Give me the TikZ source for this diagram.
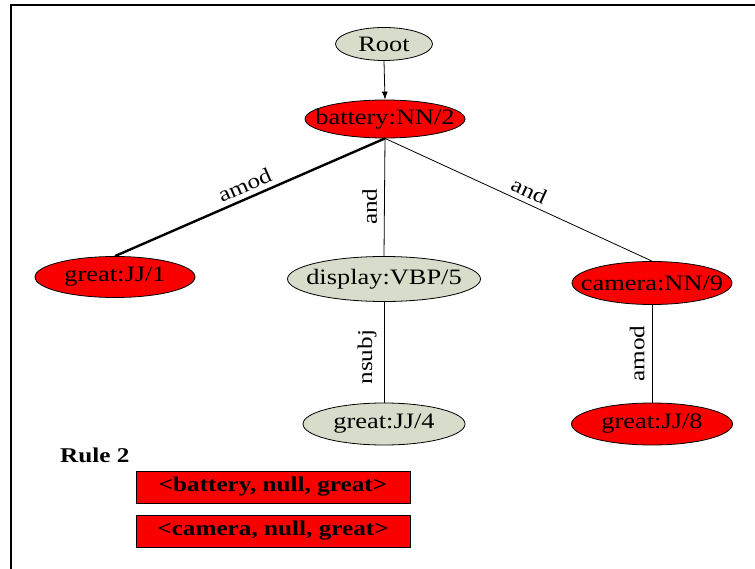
\documentclass[tikz,border=0pt]{standalone}
\usepackage{fontspec}
\setmainfont[FakeStretch=1.2]{Liberation Serif}
\usetikzlibrary{shapes.geometric,arrows.meta}
\definecolor{nodegray}{RGB}{216,220,202}
\definecolor{hotred}{RGB}{250,0,0}
% ellipse size is set explicitly; the label itself takes no width
\newcommand\tightlabel[1]{\makebox[0pt]{#1}}
\tikzset{
  word/.style={ellipse, draw=black, line width=0.8pt, inner sep=0pt,
    font=\fontsize{22}{25}\selectfont},
  plain/.style={word, fill=nodegray},
  hit/.style={word, fill=hotred},
  dep/.style={line width=0.8pt},
  strongdep/.style={line width=2.4pt},
  rel/.style={font=\fontsize{21}{24}\selectfont, inner sep=5pt},
  tuple/.style={draw=black, line width=0.8pt, fill=hotred, minimum width=274pt,
    minimum height=32pt, inner sep=0pt, font=\fontsize{21}{24}\selectfont\bfseries},
}
\begin{document}
\begin{tikzpicture}[x=1pt,y=-1pt]
\useasboundingbox (0,0) rectangle (755,569);
% frame edges
\draw[line width=1.4pt] (11,569) -- (11,5) -- (755,5);

% parse tree nodes
\node[plain, minimum width=97pt, minimum height=33pt] (root) at (384,44) {\tightlabel{Root}};
\node[hit, minimum width=160pt, minimum height=38pt] (battery) at (385,119) {\tightlabel{battery:NN/2}};
\node[hit, minimum width=160pt, minimum height=41pt] (great1) at (115,277) {\tightlabel{great:JJ/1}};
\node[plain, minimum width=193pt, minimum height=45pt] (display) at (384,279) {\tightlabel{display:VBP/5}};
\node[hit, minimum width=160pt, minimum height=43pt] (camera) at (652,283) {\tightlabel{camera:NN/9}};
\node[plain, minimum width=162pt, minimum height=42pt] (great4) at (384,424) {\tightlabel{great:JJ/4}};
\node[hit, minimum width=161pt, minimum height=42pt] (great8) at (652,424) {\tightlabel{great:JJ/8}};

% dependency edges
\draw[dep, -{Latex[length=8pt,width=6pt]}] (root.south) -- (battery.north);
\draw[strongdep] (battery.south) -- node[rel, sloped, above, pos=0.5] {amod} (great1.north);
\draw[dep] (battery.south) -- node[rel, rotate=90, anchor=south, pos=0.58, inner sep=7pt] {and} (display.north);
\draw[dep] (battery.south) -- node[rel, sloped, above, pos=0.52] {and} (camera.north);
\draw[dep] (display.south) -- node[rel, rotate=90, anchor=south, pos=0.55, inner sep=7pt] {nsubj} (great4.north);
\draw[dep] (camera.south) -- node[rel, rotate=90, anchor=south, pos=0.5, inner sep=7pt] {amod} (great8.north);

% extracted tuples
\node[anchor=west, font=\fontsize{21}{24}\selectfont\bfseries, inner sep=0pt] (rule) at (60,455) {Rule 2};
\node[tuple] (t1) at (273,487) {<battery, null, great>};
\node[tuple] (t2) at (273,531) {<camera, null, great>};
\end{tikzpicture}
\end{document}
